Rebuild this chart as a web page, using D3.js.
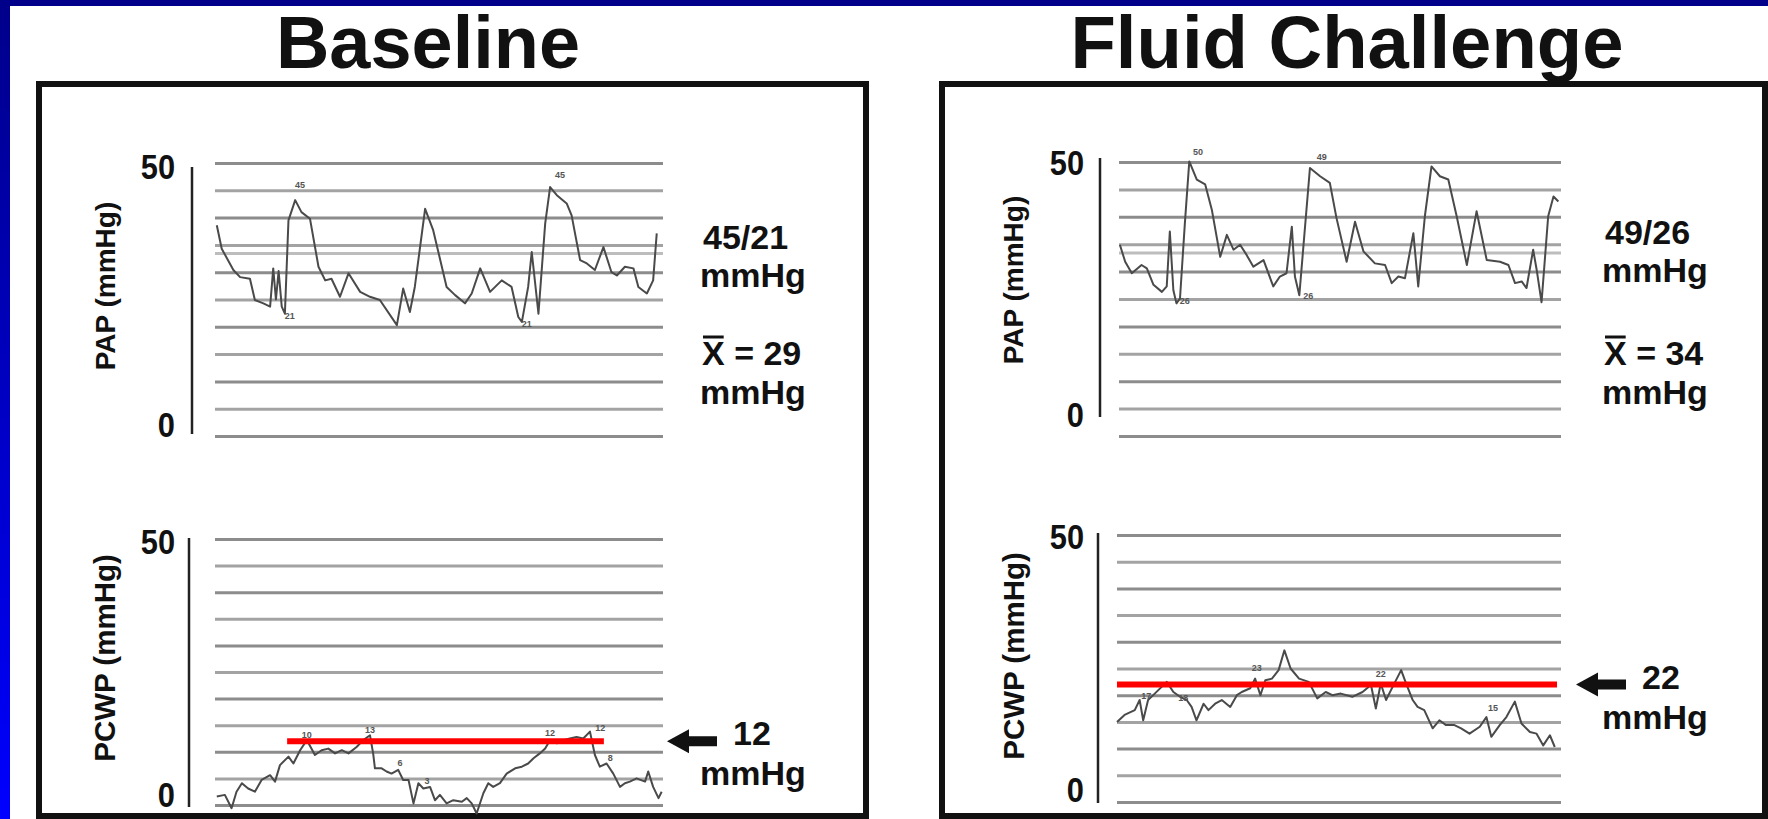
<!DOCTYPE html>
<html>
<head>
<meta charset="utf-8">
<script src="https://cdn.jsdelivr.net/npm/d3@7"></script>
<style>
  html, body { margin: 0; padding: 0; overflow: hidden; background: #fff; }
  svg { display: block; }
  text { font-family: "Liberation Sans", Arial, Helvetica, sans-serif; font-weight: bold; }
</style>
</head>
<body>
<svg id="chart" width="1768" height="819"></svg>
<script>
// ---- data -----------------------------------------------------------
const panelTitles = ["Baseline", "Fluid Challenge"];
const gridValues = [0, 5, 10, 15, 20, 25, 30, 35, 40, 45, 50];
const papExtraRule = [33.5];
const axisTickValues = [0, 50];
const papLabel = "PAP (mmHg)";
const pcwpLabel = "PCWP (mmHg)";

// pulmonary artery pressure trace: [time (% of sweep), mmHg]
const papBaseline = [
  [0.4,38.6],[1.5,34.3],[4.1,30.4],[5.6,29.1],[7.8,28.8],[8.9,24.9],[10.8,24.3],[12.3,23.7],
  [13.0,30.7],[13.6,25.0],[14.2,30.2],[14.9,23.7],[15.6,22.4],[16.4,39.5],[17.9,43.2],[19.3,41.0],
  [21.2,39.8],[23.1,31.0],[24.6,28.5],[26.0,28.8],[27.9,25.5],[29.8,29.8],[32.4,26.4],[34.6,25.5],
  [36.8,24.9],[40.6,20.3],[42.0,27.0],[43.5,22.7],[44.6,27.3],[46.9,41.6],[48.7,37.7],[51.7,27.3],
  [53.6,25.8],[55.8,24.3],[57.3,26.1],[59.2,30.7],[61.4,26.4],[64.0,28.5],[66.2,27.3],[67.7,21.8],
  [68.5,20.9],[69.9,27.3],[70.7,33.7],[72.2,22.4],[73.7,38.9],[74.8,45.6],[76.3,44.1],[78.5,42.6],
  [79.6,40.4],[81.5,32.2],[83.0,31.6],[84.8,30.4],[86.7,34.6],[88.5,30.0],[89.7,29.4],[91.5,31.0],
  [93.4,30.7],[94.5,27.3],[96.4,26.1],[97.8,28.5],[98.6,37.1]
];
const papFluid = [
  [0.2,34.9],[1.4,31.8],[2.9,29.7],[5.1,31.2],[6.3,30.6],[7.8,27.6],[9.7,26.3],[10.8,27.3],
  [11.5,37.3],[12.3,26.6],[13.0,24.2],[13.8,25.1],[14.9,38.8],[15.9,50.1],[17.6,46.8],[19.5,45.9],
  [21.0,41.3],[22.9,32.7],[24.4,36.7],[25.9,34.0],[27.4,34.9],[28.9,33.0],[30.4,30.9],[32.7,32.1],
  [34.9,27.3],[36.4,29.1],[37.9,29.7],[39.1,38.2],[39.8,29.1],[40.8,25.7],[43.2,48.9],[45.5,47.4],
  [47.7,46.2],[49.2,39.8],[51.5,31.8],[53.4,39.1],[55.3,33.7],[57.9,31.5],[60.2,31.2],[61.7,27.9],
  [63.2,29.1],[64.7,28.8],[66.6,37.0],[67.7,27.3],[69.2,40.1],[70.7,49.2],[72.6,47.4],[74.5,46.8],
  [76.4,40.1],[78.7,31.2],[80.9,41.0],[83.2,32.1],[86.2,31.8],[88.1,31.2],[89.6,27.9],[91.1,28.2],
  [92.2,27.0],[93.7,34.0],[94.5,30.3],[95.6,24.4],[97.1,40.1],[98.3,43.7],[99.4,42.8]
];

// pulmonary capillary wedge pressure trace: [time (% of sweep), mmHg]
const pcwpBaseline = [
  [0.4,1.6],[2.2,1.9],[3.7,-0.6],[4.8,2.5],[6.0,4.1],[7.4,3.1],[8.9,2.5],[10.4,4.7],[12.3,5.6],
  [13.4,4.4],[14.5,7.5],[16.4,9.1],[17.5,7.8],[19.0,10.3],[20.5,12.2],[22.3,9.4],[23.8,10.3],
  [25.3,10.6],[26.8,9.7],[28.3,10.3],[29.8,9.7],[31.6,10.9],[33.1,12.2],[34.6,13.1],[35.3,9.7],
  [35.7,6.9],[37.2,6.9],[38.3,6.3],[39.4,5.9],[40.9,6.6],[42.0,4.7],[43.2,4.7],[44.3,0.3],[45.4,4.1],
  [46.5,3.1],[48.0,3.4],[49.1,0.9],[50.2,1.9],[51.7,0.3],[53.2,0.9],[55.1,0.6],[56.2,1.3],[57.3,0.3],
  [58.4,-1.6],[59.9,2.2],[61.0,4.1],[62.1,3.4],[63.6,4.1],[65.1,5.9],[67.0,6.9],[68.5,7.2],[69.9,7.8],
  [71.1,8.8],[72.5,9.7],[73.7,10.6],[74.8,12.2],[76.3,11.6],[77.8,12.2],[79.2,12.5],[80.7,12.8],
  [82.2,12.5],[83.7,13.8],[84.8,9.4],[85.9,7.2],[87.4,7.8],[88.9,5.9],[90.4,3.4],[91.5,4.1],[92.6,4.4],
  [94.1,5.0],[96.0,4.4],[96.7,6.3],[97.8,3.4],[99.0,1.3],[99.7,2.5]
];
const pcwpFluid = [
  [0.0,15.0],[1.7,16.3],[4.0,17.2],[5.1,19.1],[5.9,15.3],[7.0,19.1],[8.5,20.3],[11.2,22.5],
  [12.7,20.6],[14.2,19.7],[15.7,19.1],[16.8,17.8],[17.9,15.3],[19.5,18.4],[20.6,17.2],[22.1,18.4],
  [23.6,19.1],[25.5,17.8],[27.0,20.0],[28.1,20.6],[30.0,21.3],[31.1,23.1],[32.3,20.0],[33.4,22.8],
  [34.9,23.1],[36.4,24.7],[37.7,28.4],[39.1,25.0],[41.0,23.1],[43.2,22.5],[45.1,19.4],[47.0,20.6],
  [48.5,20.0],[50.4,20.3],[53.0,19.7],[55.3,20.6],[57.2,21.9],[58.3,17.5],[59.4,22.2],[60.6,19.1],
  [62.1,21.6],[64.0,24.7],[65.1,22.2],[66.6,19.1],[67.7,17.8],[69.2,17.2],[71.1,13.8],[72.6,15.3],
  [74.1,14.4],[76.0,14.4],[77.5,13.8],[79.4,12.8],[81.7,14.1],[83.2,15.9],[84.3,12.2],[86.2,14.4],
  [87.7,15.9],[89.6,18.8],[91.1,14.7],[93.0,13.1],[94.5,12.8],[96.0,10.6],[97.5,12.5],[98.6,10.3]
];

// small values printed along the traces: [time, mmHg, text]
const papBaselineMarks = [[19.0,45.5,"45"],[16.7,21.5,"21"],[69.6,20.0,"21"],[77.0,47.2,"45"]];
const papFluidMarks = [[17.9,51.3,"50"],[45.9,50.4,"49"],[14.9,24.0,"26"],[42.8,25.0,"26"]];
const pcwpBaselineMarks = [[20.5,12.6,"10"],[34.6,13.6,"13"],[41.3,7.4,"6"],[47.3,4.0,"3"],[74.8,13.0,"12"],[86.0,14.0,"12"],[88.2,8.2,"8"]];
const pcwpFluidMarks = [[6.6,19.3,"17"],[14.9,19.0,"18"],[31.5,24.6,"23"],[59.4,23.4,"22"],[84.7,17.0,"15"]];

// pressure summaries
const papSummary = ["45/21", "49/26"];
const papMeans = [29, 34];
const pcwpMeans = [12, 22];
const pcwpMeanSpan = [[16.1, 86.8], [0.0, 99.1]];
const unitText = "mmHg";

// ---- drawing --------------------------------------------------------
const svg = d3.select("#chart");
const W = 1768, H = 819;

// squeeze a text horizontally so the glyphs read tall and narrow
function condense(sel, factor) {
  const len = sel.node().getComputedTextLength();
  sel.attr("textLength", len * factor).attr("lengthAdjust", "spacingAndGlyphs");
  return sel;
}

const defs = svg.append("defs");
const grad = defs.append("linearGradient").attr("id", "frameBlue")
  .attr("x1", 0).attr("y1", 0).attr("x2", 0).attr("y2", 1);
grad.append("stop").attr("offset", "0%").attr("stop-color", "#00008a");
grad.append("stop").attr("offset", "100%").attr("stop-color", "#0000ff");

svg.append("rect").attr("width", W).attr("height", H).attr("fill", "url(#frameBlue)");
svg.append("rect").attr("x", 10).attr("y", 6).attr("width", W - 10).attr("height", H - 6).attr("fill", "#ffffff");

// panel frames and headings
const panels = [
  { title: panelTitles[0], cx: 428, frame: [39, 84, 866, 816], titleLen: 304,
    pap:  { x: [215, 663], y: [436, 163], axisX: 192, axisY: [434, 167], lab: [425, 167], labX: 175, data: papBaseline, marks: papBaselineMarks, titleX: 104, titleY: 286 },
    pcwp: { x: [215, 663], y: [805, 539], axisX: 189, axisY: [807, 538], lab: [795, 542], labX: 175, data: pcwpBaseline, marks: pcwpBaselineMarks, titleX: 104, titleY: 658 },
    noteX: 700, arrowX: 667, summaryY: 249 },
  { title: panelTitles[1], cx: 1347, frame: [942, 84, 1765, 816], titleLen: 553,
    pap:  { x: [1119, 1561], y: [436, 162], axisX: 1100, axisY: [417, 158], lab: [415, 163], labX: 1084, data: papFluid, marks: papFluidMarks, titleX: 1012, titleY: 280 },
    pcwp: { x: [1117, 1561], y: [802, 535], axisX: 1098, axisY: [803, 533], lab: [790, 537], labX: 1084, data: pcwpFluid, marks: pcwpFluidMarks, titleX: 1013, titleY: 656 },
    noteX: 1602, arrowX: 1576, summaryY: 244 }
];

const noteSize = 34;

panels.forEach((p, i) => {
  svg.append("text")
    .attr("x", p.cx).attr("y", 68)
    .attr("text-anchor", "middle")
    .attr("font-size", 75)
    .attr("textLength", p.titleLen).attr("lengthAdjust", "spacingAndGlyphs")
    .attr("fill", "#111")
    .text(p.title);

  const [fx0, fy0, fx1, fy1] = p.frame;
  svg.append("rect")
    .attr("x", fx0).attr("y", fy0).attr("width", fx1 - fx0).attr("height", fy1 - fy0)
    .attr("fill", "#fff").attr("stroke", "#111").attr("stroke-width", 6);

  drawStrip(p.pap, papLabel, true);
  const pcwpY = drawStrip(p.pcwp, pcwpLabel, false);
  const pcwpX = d3.scaleLinear().domain([0, 100]).range(p.pcwp.x);

  // mean wedge pressure
  svg.append("line")
    .attr("x1", pcwpX(pcwpMeanSpan[i][0])).attr("x2", pcwpX(pcwpMeanSpan[i][1]))
    .attr("y1", pcwpY(pcwpMeans[i])).attr("y2", pcwpY(pcwpMeans[i]))
    .attr("stroke", "#ff0000").attr("stroke-width", 6);

  // arrow pointing at the mean line
  const ay = pcwpY(pcwpMeans[i]);
  const ax = p.arrowX;
  const arrow = d3.path();
  arrow.moveTo(ax, ay);
  arrow.lineTo(ax + 22, ay - 12);
  arrow.lineTo(ax + 22, ay - 5);
  arrow.lineTo(ax + 50, ay - 5);
  arrow.lineTo(ax + 50, ay + 5);
  arrow.lineTo(ax + 22, ay + 5);
  arrow.lineTo(ax + 22, ay + 12);
  arrow.closePath();
  svg.append("path").attr("d", arrow.toString()).attr("fill", "#111");

  svg.append("text").attr("x", ax + 66).attr("y", ay + 4).attr("font-size", noteSize).attr("fill", "#111")
    .text(String(pcwpMeans[i]));
  svg.append("text").attr("x", p.noteX).attr("y", ay + 44).attr("font-size", noteSize).attr("fill", "#111")
    .text(unitText);

  // systolic/diastolic and mean PAP notes
  const nx = p.noteX;
  const top = p.summaryY;
  svg.append("text").attr("x", nx + 3).attr("y", top).attr("font-size", noteSize).attr("fill", "#111").text(papSummary[i]);
  svg.append("text").attr("x", nx).attr("y", top + 38).attr("font-size", noteSize).attr("fill", "#111").text(unitText);
  const meanText = svg.append("text").attr("x", nx + 2).attr("y", 365).attr("font-size", noteSize).attr("fill", "#111");
  meanText.append("tspan").text("X");
  meanText.append("tspan").text(" = " + papMeans[i]);
  const ext = meanText.node().getExtentOfChar(0);
  svg.append("line")
    .attr("x1", ext.x + 1).attr("x2", ext.x + ext.width - 1)
    .attr("y1", ext.y + 3).attr("y2", ext.y + 3)
    .attr("stroke", "#111").attr("stroke-width", 3);
  svg.append("text").attr("x", nx).attr("y", 404).attr("font-size", noteSize).attr("fill", "#111").text(unitText);
});

function drawStrip(s, label, isPap) {
  const x = d3.scaleLinear().domain([0, 100]).range(s.x);
  const y = d3.scaleLinear().domain([0, 50]).range(s.y);
  const g = svg.append("g");

  // horizontal rules every 5 mmHg
  const rules = isPap ? gridValues.concat(papExtraRule) : gridValues;
  g.append("g")
    .attr("transform", `translate(${s.x[0]},0)`)
    .call(d3.axisRight(y).tickValues(rules).tickSize(s.x[1] - s.x[0]).tickFormat(""))
    .call(a => a.select(".domain").remove())
    .call(a => a.selectAll(".tick line")
      .attr("stroke", d => d === papExtraRule[0] ? "#bdbdbd" : (d % 10 === 0 ? "#8c8c8c" : "#a3a3a3"))
      .attr("stroke-width", 3));

  // vertical axis with end labels
  const yAxis = d3.scaleLinear().domain([0, 50]).range(s.lab);
  const ax = g.append("g")
    .attr("transform", `translate(${s.labX},0)`)
    .call(d3.axisLeft(yAxis).tickValues(axisTickValues).tickSize(0).tickPadding(0).tickSizeOuter(0));
  ax.select(".domain").remove();
  ax.selectAll(".tick text")
    .attr("font-size", 35).attr("fill", "#111")
    .attr("font-family", "'Liberation Sans', Arial, sans-serif").attr("font-weight", "bold")
    .each(function () { condense(d3.select(this), 0.88); });
  g.append("line")
    .attr("x1", s.axisX).attr("x2", s.axisX)
    .attr("y1", s.axisY[0]).attr("y2", s.axisY[1])
    .attr("stroke", "#222").attr("stroke-width", 2.5);

  // axis title
  g.append("text")
    .attr("transform", `translate(${s.titleX + 11},${s.titleY}) rotate(-90)`)
    .attr("text-anchor", "middle")
    .attr("font-size", isPap ? 28 : 29.5)
    .attr("fill", "#111")
    .text(label);

  // pressure trace
  g.append("path")
    .datum(s.data)
    .attr("fill", "none")
    .attr("stroke", "#4a4a4a")
    .attr("stroke-width", 2)
    .attr("stroke-linejoin", "round")
    .attr("d", d3.line().x(d => x(d[0])).y(d => y(d[1])));

  g.selectAll("text.mark")
    .data(s.marks)
    .join("text")
    .attr("class", "mark")
    .attr("x", d => x(d[0])).attr("y", d => y(d[1]))
    .attr("text-anchor", "middle")
    .attr("font-size", 9)
    .attr("font-weight", "normal")
    .attr("fill", "#555")
    .text(d => d[2]);

  return y;
}
</script>
</body>
</html>
